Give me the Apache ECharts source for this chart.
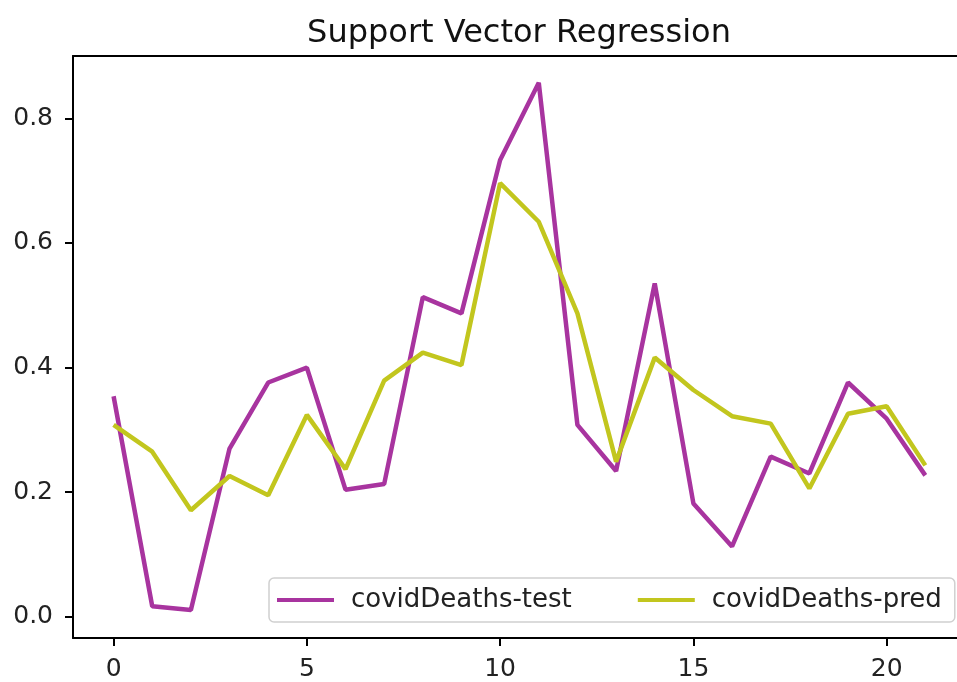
<!DOCTYPE html>
<html>
<head>
<meta charset="utf-8">
<script src="https://cdn.jsdelivr.net/npm/echarts@6/dist/echarts.min.js"></script>
<style>
  html, body { margin: 0; padding: 0; background: #fff; }
  #chart { width: 957px; height: 682px; }
</style>
</head>
<body>
<div id="chart"></div>
<script>
// values
const steps = [0, 1, 2, 3, 4, 5, 6, 7, 8, 9, 10, 11, 12, 13, 14, 15, 16, 17, 18, 19, 20, 21];
const testValues = [0.354, 0.017, 0.011, 0.270, 0.376, 0.400, 0.204, 0.213, 0.513, 0.487, 0.733,
  0.857, 0.308, 0.234, 0.535, 0.182, 0.113, 0.257, 0.230, 0.376, 0.318, 0.227];
const predValues = [0.308, 0.265, 0.171, 0.226, 0.195, 0.324, 0.237, 0.379, 0.424, 0.404, 0.696,
  0.634, 0.487, 0.249, 0.416, 0.364, 0.322, 0.310, 0.206, 0.326, 0.338, 0.243];
const xTicks = [0, 5, 10, 15, 20];
const yTicks = [0, 0.2, 0.4, 0.6, 0.8];

const font = 'DejaVu Sans';

const chartDom = document.getElementById('chart');
const myChart = echarts.init(chartDom);

const pairs = (vals) => steps.map((s, i) => [s, vals[i]]);

const option = {
  animation: false,
  title: {
    text: 'Support Vector Regression',
    left: 514,
    textAlign: 'center',
    top: 13,
    textStyle: { fontFamily: font, fontSize: 32, fontWeight: 'normal', color: '#111' },
  },
  legend: {
    left: 269,
    top: 578,
    orient: 'horizontal',
    icon: 'rect',
    itemWidth: 57,
    itemHeight: 4,
    itemGap: 66,
    padding: [9, 13, 9, 8],
    backgroundColor: '#fff',
    borderColor: '#d0d0d0',
    borderWidth: 1.5,
    borderRadius: 5,
    textStyle: { fontFamily: font, fontSize: 26, color: '#222', padding: [0, 0, 0, 12] },
    data: ['covidDeaths-test', 'covidDeaths-pred'],
  },
  grid: {
    left: 73,
    right: 0,
    top: 56,
    bottom: 44,
  },
  xAxis: [
    {
      type: 'value',
      min: -1.05,
      max: 21.82,
      axisLine: { onZero: false, lineStyle: { color: '#000', width: 2 } },
      axisTick: { customValues: xTicks, length: 8, lineStyle: { color: '#000', width: 2 } },
      axisLabel: {
        customValues: xTicks,
        margin: 19,
        fontFamily: font,
        fontSize: 25,
        color: '#222',
      },
      splitLine: { show: false },
    },
    {
      // top spine only
      type: 'value',
      position: 'top',
      min: -1.05,
      max: 21.82,
      axisLine: { onZero: false, lineStyle: { color: '#000', width: 2 } },
      axisTick: { show: false },
      axisLabel: { show: false },
      splitLine: { show: false },
    },
  ],
  yAxis: {
    type: 'value',
    min: -0.034,
    max: 0.9,
    axisLine: { show: true, onZero: false, lineStyle: { color: '#000', width: 2 } },
    axisTick: { show: true, customValues: yTicks, length: 8, lineStyle: { color: '#000', width: 2 } },
    axisLabel: {
      customValues: yTicks,
      margin: 20,
      fontFamily: font,
      fontSize: 25,
      color: '#222',
      formatter: (v) => v.toFixed(1),
    },
    splitLine: { show: false },
  },
  series: [
    {
      name: 'covidDeaths-test',
      type: 'line',
      data: pairs(testValues),
      symbol: 'none',
      color: '#a8349f',
      lineStyle: { width: 4.5 },
    },
    {
      name: 'covidDeaths-pred',
      type: 'line',
      data: pairs(predValues),
      symbol: 'none',
      color: '#c2c61e',
      lineStyle: { width: 4.5 },
    },
  ],
};
myChart.setOption(option);
</script>
</body>
</html>
